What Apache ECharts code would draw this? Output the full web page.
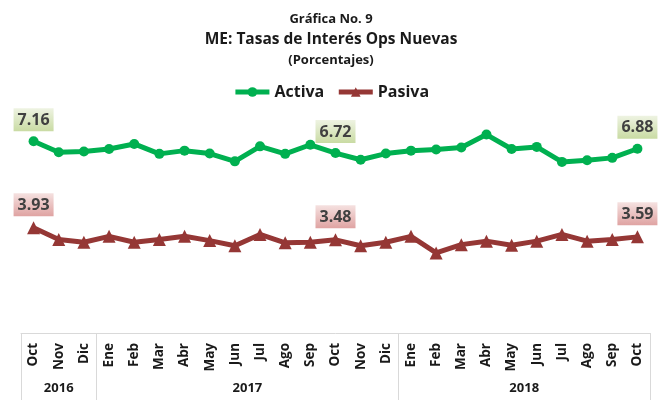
<!DOCTYPE html>
<html>
<head>
<meta charset="utf-8">
<script src="https://cdn.jsdelivr.net/npm/echarts@6/dist/echarts.min.js"></script>
<style>
  html, body { margin: 0; padding: 0; background: #fff; }
  #chart { width: 662px; height: 400px; }
</style>
</head>
<body>
<div id="chart"></div>
<script>
// months Oct 2016 .. Oct 2018
var months = ['Oct','Nov','Dic','Ene','Feb','Mar','Abr','May','Jun','Jul','Ago','Sep',
              'Oct','Nov','Dic','Ene','Feb','Mar','Abr','May','Jun','Jul','Ago','Sep','Oct'];
var years = ['2016', '2017', '2018'];
var yearMonths = [3, 12, 10];

var activa = [7.16, 6.75, 6.78, 6.87, 7.06, 6.69, 6.81, 6.70, 6.41, 6.97, 6.69, 7.03,
              6.72, 6.47, 6.70, 6.81, 6.85, 6.93, 7.41, 6.87, 6.95, 6.39, 6.45, 6.54, 6.88];
var pasiva = [3.93, 3.49, 3.39, 3.61, 3.39, 3.49, 3.61, 3.45, 3.26, 3.68, 3.37, 3.39,
              3.48, 3.26, 3.39, 3.61, 2.99, 3.30, 3.43, 3.28, 3.43, 3.68, 3.43, 3.49, 3.59];
var labelIdx = [0, 12, 24];

var font = '"Open Sans", "Liberation Sans", sans-serif';

// group boundaries and centers (in month units)
var bounds = [0];
var centers = [];
yearMonths.forEach(function (n, i) {
  centers.push(bounds[i] + n / 2);
  bounds.push(bounds[i] + n);
});

function withLabels(arr) {
  return arr.map(function (v, i) {
    return labelIdx.indexOf(i) >= 0 ? {value: v, label: {show: true}} : v;
  });
}

var chart = echarts.init(document.getElementById('chart'));
chart.setOption({
  animation: false,
  title: [
    {text: 'Gráfica No. 9', left: 'center', top: 8,
     textStyle: {fontFamily: font, fontSize: 13, fontWeight: 'bold', color: '#1a1a1a'}},
    {text: 'ME: Tasas de Interés Ops Nuevas', left: 'center', top: 27,
     textStyle: {fontFamily: font, fontSize: 15.5, fontWeight: 'bold', color: '#1a1a1a'}},
    {text: '(Porcentajes)', left: 'center', top: 49,
     textStyle: {fontFamily: font, fontSize: 13, fontWeight: 'bold', color: '#1a1a1a'}}
  ],
  legend: {
    top: 79,
    left: 'center',
    itemWidth: 34,
    itemHeight: 12,
    itemGap: 12,
    lineStyle: {width: 5},
    textStyle: {fontFamily: font, fontSize: 16, fontWeight: 'bold', color: '#1a1a1a'},
    data: ['Activa', 'Pasiva']
  },
  grid: {left: 21, right: 12, top: 92, bottom: 67},
  xAxis: [
    {
      type: 'category',
      data: months,
      boundaryGap: true,
      axisLine: {lineStyle: {color: '#d9d9d9', width: 1}},
      axisTick: {
        show: true,
        length: 67,
        lineStyle: {color: '#d9d9d9', width: 1},
        interval: function (index) { return bounds.indexOf(index) >= 0; }
      },
      axisLabel: {
        interval: 0,
        rotate: 90,
        margin: 10,
        fontFamily: font,
        fontSize: 13.5,
        fontWeight: 'bold',
        color: '#1a1a1a'
      }
    },
    {
      type: 'value',
      position: 'bottom',
      min: 0,
      max: months.length,
      interval: 0.5,
      axisLine: {show: false},
      axisTick: {show: false},
      splitLine: {show: false},
      axisLabel: {
        margin: 49,
        fontFamily: font,
        fontSize: 13,
        fontWeight: 'bold',
        color: '#1a1a1a',
        showMinLabel: true,
        showMaxLabel: true,
        formatter: function (v) {
          var i = centers.indexOf(v);
          return i >= 0 ? years[i] : '';
        }
      }
    }
  ],
  yAxis: {type: 'value', min: 0, max: 9, show: false},
  series: [
    {
      name: 'Activa',
      type: 'line',
      data: withLabels(activa),
      color: '#00b050',
      symbol: 'circle',
      symbolSize: 10,
      lineStyle: {width: 5, color: '#00b050'},
      itemStyle: {color: '#00b050'},
      label: {
        show: false,
        position: 'top',
        distance: 5,
        formatter: function (p) { return p.value.toFixed(2); },
        fontFamily: font,
        fontSize: 16,
        fontWeight: 'bold',
        color: '#404040',
        padding: [4, 4, 3, 4],
        backgroundColor: new echarts.graphic.LinearGradient(0, 0, 0, 1, [
          {offset: 0, color: '#eef3e2'},
          {offset: 1, color: '#c9dba3'}
        ])
      }
    },
    {
      name: 'Pasiva',
      type: 'line',
      data: withLabels(pasiva),
      color: '#953735',
      symbol: 'triangle',
      symbolSize: 13,
      lineStyle: {width: 5, color: '#953735'},
      itemStyle: {color: '#953735'},
      label: {
        show: false,
        position: 'top',
        distance: 5,
        formatter: function (p) { return p.value.toFixed(2); },
        fontFamily: font,
        fontSize: 16,
        fontWeight: 'bold',
        color: '#404040',
        padding: [4, 4, 3, 4],
        backgroundColor: new echarts.graphic.LinearGradient(0, 0, 0, 1, [
          {offset: 0, color: '#f5e1e0'},
          {offset: 1, color: '#dfa3a2'}
        ])
      }
    }
  ]
});
</script>
</body>
</html>
